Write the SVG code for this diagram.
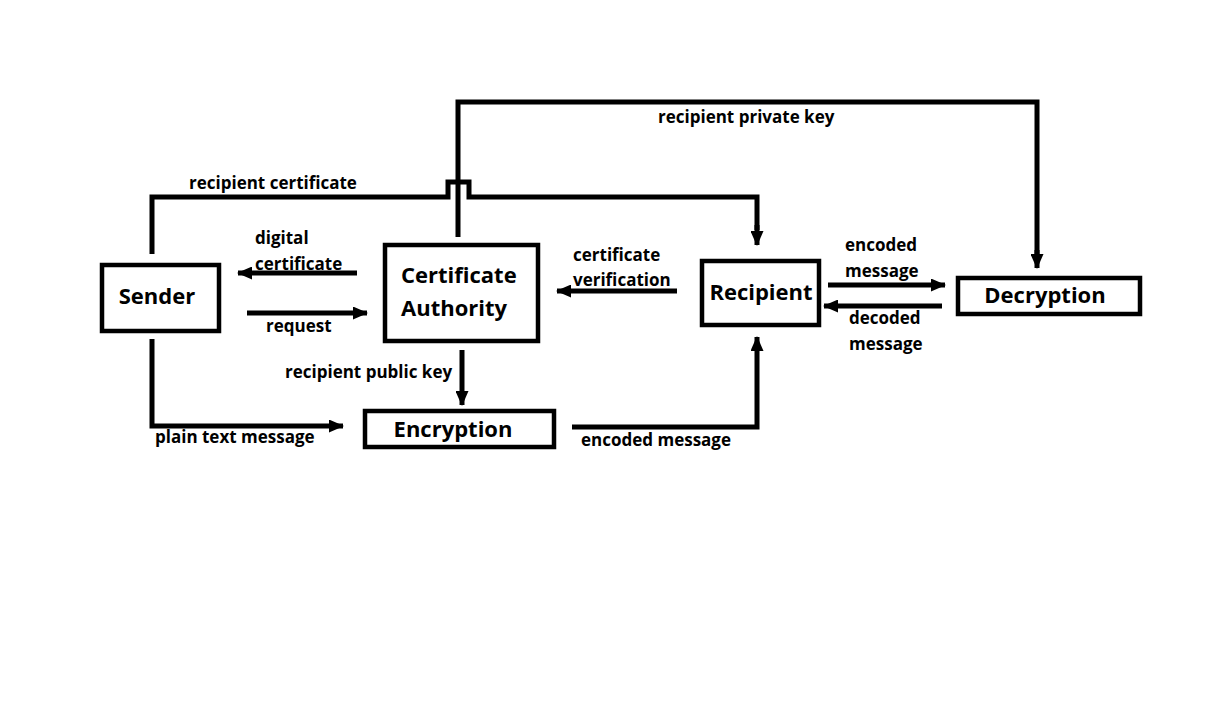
<svg xmlns="http://www.w3.org/2000/svg" width="1213" height="707" viewBox="0 0 1213 707">
<defs>
<marker id="ah" viewBox="0 0 15 13" refX="14" refY="6.5" markerWidth="15" markerHeight="13" markerUnits="userSpaceOnUse" orient="auto">
<path d="M0,0 L15,6.5 L0,13 Z" fill="#000"/>
</marker>
<style>
.box{fill:#fff;stroke:#000;stroke-width:4.5}
.ln{fill:none;stroke:#000;stroke-width:5}
.ar{fill:none;stroke:#000;stroke-width:5;marker-end:url(#ah)}
.nt{font-family:"Open Sans","Noto Sans",sans-serif;font-weight:bold;font-size:22px;fill:#000}
.lt{font-family:"Open Sans","Noto Sans",sans-serif;font-weight:bold;font-size:17px;fill:#000}
</style>
</defs>
<rect width="1213" height="707" fill="#fff"/>
<g id="connectors">
<path class="ln" d="M458,237 V102 H1037 V256"/>
<path class="ar" d="M1037,250 V268"/>
<path class="ln" d="M152,254 V197 H448 V182 H469 V197 H757 V230"/>
<path class="ar" d="M757,225 V245"/>
<path class="ar" d="M357,273 H238"/>
<path class="ar" d="M247,313 H367"/>
<path class="ar" d="M677,291 H557"/>
<path class="ar" d="M828,285 H945"/>
<path class="ar" d="M942,306 H824"/>
<path class="ar" d="M462,350 V405"/>
<path class="ar" d="M152,339 V426 H343"/>
<path class="ar" d="M572,427 H757 V337"/>
<text class="lt" x="189" y="189">recipient certificate</text>
<text class="lt" x="658" y="123">recipient private key</text>
<text class="lt" x="255" y="244">digital</text>
<text class="lt" x="255" y="270">certificate</text>
<text class="lt" x="266" y="332">request</text>
<text class="lt" x="573" y="261">certificate</text>
<text class="lt" x="573" y="286">verification</text>
<text class="lt" x="845" y="251">encoded</text>
<text class="lt" x="845" y="277">message</text>
<text class="lt" x="849" y="324">decoded</text>
<text class="lt" x="849" y="350">message</text>
<text class="lt" x="285" y="378">recipient public key</text>
<text class="lt" x="155" y="443">plain text message</text>
<text class="lt" x="581" y="446">encoded message</text>
</g>
<g id="sender">
<rect class="box" x="102" y="265" width="117" height="66"/>
<text class="nt" x="157" y="304" text-anchor="middle">Sender</text>
</g>
<g id="ca">
<rect class="box" x="385" y="245" width="153" height="96"/>
<text class="nt" x="401" y="283">Certificate</text>
<text class="nt" x="401" y="316">Authority</text>
</g>
<g id="recipient">
<rect class="box" x="702" y="261" width="117" height="64"/>
<text class="nt" x="761" y="300" text-anchor="middle">Recipient</text>
</g>
<g id="decryption">
<rect class="box" x="958" y="278" width="182" height="36"/>
<text class="nt" x="1045" y="303" text-anchor="middle">Decryption</text>
</g>
<g id="encryption">
<rect class="box" x="365" y="411" width="189" height="36"/>
<text class="nt" x="453" y="437" text-anchor="middle">Encryption</text>
</g>
</svg>
